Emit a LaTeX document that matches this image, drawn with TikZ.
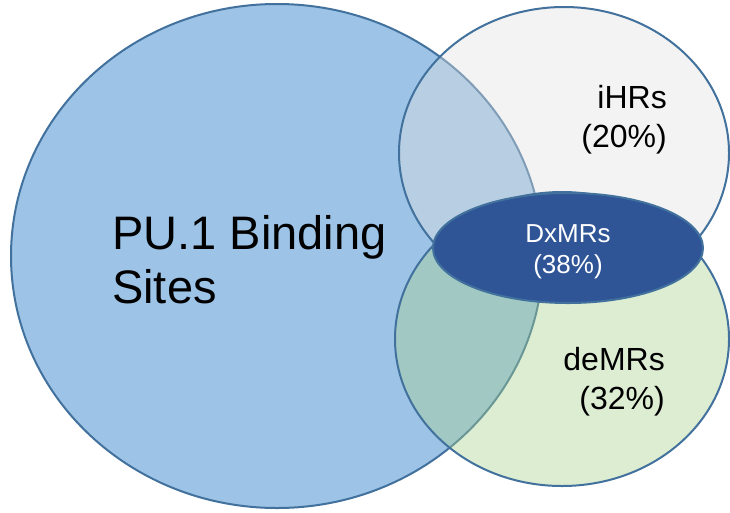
\documentclass[tikz,border=0pt]{standalone}
\usepackage{fontspec}
\setmainfont{Liberation Sans}
\usetikzlibrary{shapes.geometric,positioning}
\definecolor{puBlue}{HTML}{9DC3E6}
\definecolor{setEdge}{HTML}{41719C}
\definecolor{ihrGray}{HTML}{E0E0E0}
\definecolor{demrGreen}{HTML}{A9D18E}
\definecolor{dxmrBlue}{HTML}{2F5597}
\tikzset{
  setshape/.style={ellipse, draw=setEdge, line width=2pt, inner sep=0pt},
  biglabel/.style={inner sep=0pt, align=left,
                   font={\fontsize{47pt}{54pt}\selectfont}},
  setlabel/.style={inner sep=0pt, align=right,
                   font={\fontsize{32pt}{39pt}\selectfont}},
}

\begin{document}
\begin{tikzpicture}[
    x=1pt,
    y=-1pt,
  ]
    \useasboundingbox (0,0) rectangle (730,512);

    % Sets: PU.1 sites at the back, the two region sets see-through on top
    \node[setshape, fill=puBlue, minimum width=532, minimum height=504] (pu_sites) at (277,256) {};
    \node[setshape, fill=ihrGray, fill opacity=0.4, minimum width=330, minimum height=292] (ihr_set) at (564,153) {};
    \node[setshape, fill=demrGreen, fill opacity=0.4, minimum width=334, minimum height=294] (demr_set) at (562,339) {};
    \node[setshape, fill=dxmrBlue, minimum width=270, minimum height=110] (dxmr_set) at (568,248) {};

    % Labels (base anchor sits on the last line)
    \node[biglabel, anchor=base west] (pu_label) at (112,303) {PU.1 Binding\\Sites};
    \node[setlabel, anchor=base east] (ihr_label) at (667,147) {iHRs\\(20\%)};
    \node[setlabel, anchor=base east] (demr_label) at (665,409) {deMRs\\(32\%)};
    \node[inner sep=0pt, align=center, text=white, anchor=base,
          font={\fontsize{26pt}{31pt}\selectfont}] (dxmr_label) at (568,273) {DxMRs\\(38\%)};
  \end{tikzpicture}
\end{document}
